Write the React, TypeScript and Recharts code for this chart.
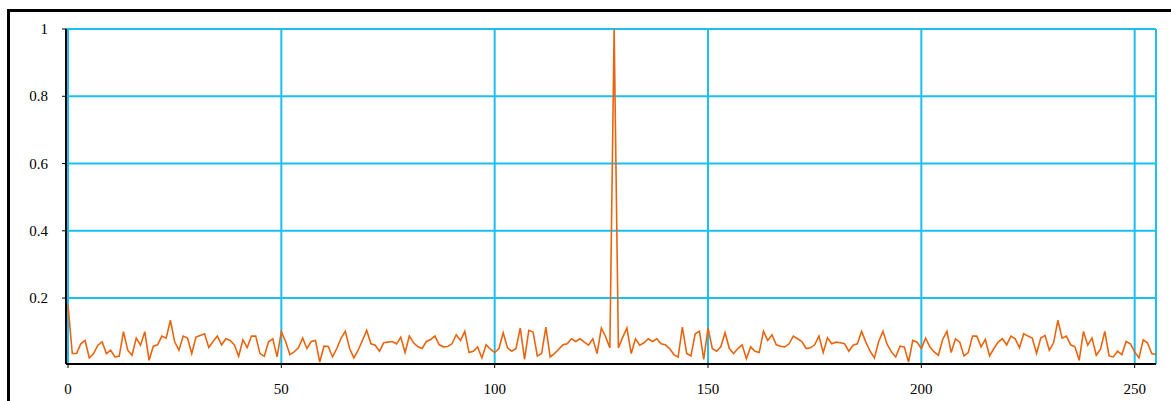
import React from 'react';
import { LineChart, Line, XAxis, YAxis, CartesianGrid } from 'recharts';

// correlation values, lag 0..255
const corr: number[] = [
    0.18, 0.035, 0.035, 0.064, 0.074, 0.022, 0.035, 0.06, 0.07, 0.035,
    0.045, 0.025, 0.027, 0.1, 0.045, 0.03, 0.081, 0.06, 0.1, 0.015,
    0.057, 0.061, 0.087, 0.081, 0.134, 0.07, 0.045, 0.087, 0.081, 0.035,
    0.084, 0.089, 0.094, 0.053, 0.071, 0.087, 0.061, 0.079, 0.074, 0.061,
    0.027, 0.076, 0.053, 0.087, 0.087, 0.035, 0.027, 0.07, 0.079, 0.025,
    0.1, 0.071, 0.032, 0.04, 0.052, 0.081, 0.05, 0.071, 0.074, 0.01,
    0.057, 0.056, 0.025, 0.05, 0.081, 0.101, 0.05, 0.022, 0.045, 0.074,
    0.104, 0.064, 0.06, 0.042, 0.067, 0.069, 0.071, 0.064, 0.084, 0.038,
    0.087, 0.067, 0.055, 0.05, 0.071, 0.077, 0.087, 0.061, 0.055, 0.056,
    0.064, 0.091, 0.074, 0.101, 0.038, 0.042, 0.055, 0.022, 0.061, 0.048,
    0.038, 0.05, 0.097, 0.052, 0.042, 0.05, 0.111, 0.018, 0.104, 0.099,
    0.028, 0.035, 0.114, 0.025, 0.035, 0.048, 0.061, 0.064, 0.079, 0.071,
    0.079, 0.069, 0.06, 0.079, 0.035, 0.111, 0.085, 0.052, 1, 0.052,
    0.083, 0.111, 0.035, 0.079, 0.06, 0.067, 0.079, 0.071, 0.079, 0.064,
    0.061, 0.05, 0.032, 0.025, 0.114, 0.035, 0.028, 0.094, 0.101, 0.018,
    0.111, 0.05, 0.042, 0.055, 0.097, 0.05, 0.035, 0.05, 0.061, 0.02,
    0.055, 0.042, 0.038, 0.101, 0.074, 0.091, 0.061, 0.057, 0.055, 0.064,
    0.087, 0.079, 0.071, 0.05, 0.052, 0.061, 0.087, 0.038, 0.082, 0.064,
    0.069, 0.067, 0.064, 0.042, 0.06, 0.064, 0.101, 0.069, 0.042, 0.022,
    0.071, 0.101, 0.062, 0.04, 0.025, 0.057, 0.055, 0.01, 0.074, 0.069,
    0.05, 0.081, 0.055, 0.04, 0.03, 0.077, 0.101, 0.038, 0.079, 0.069,
    0.028, 0.038, 0.087, 0.087, 0.055, 0.077, 0.028, 0.05, 0.069, 0.079,
    0.061, 0.087, 0.079, 0.052, 0.094, 0.087, 0.081, 0.035, 0.081, 0.089,
    0.045, 0.067, 0.134, 0.081, 0.087, 0.061, 0.055, 0.015, 0.101, 0.06,
    0.081, 0.03, 0.048, 0.101, 0.028, 0.025, 0.042, 0.032, 0.071, 0.064,
    0.04, 0.022, 0.076, 0.067, 0.035, 0.032,
];
const lags: number[] = corr.map((_, i) => i);

const xTicks = [0, 50, 100, 150, 200, 250];
const yTicks = [0.2, 0.4, 0.6, 0.8, 1];

const data = lags.map((lag, i) => ({ lag, value: corr[i] }));

const gridColor = '#1bbff0';
const lineColor = '#e8650f';
const serif = '"Liberation Serif", "DejaVu Serif", serif';

// plain serif tick text
const XTick = (props: any) => {
    const { x, y, payload } = props;
    return (
        <text x={x} y={y + 11} textAnchor="middle" style={{ fontFamily: serif, fontSize: 15, fill: '#000' }}>
            {payload.value}
        </text>
    );
};

const YTick = (props: any) => {
    const { x, y, payload } = props;
    return (
        <text x={x} y={y + 5} textAnchor="end" style={{ fontFamily: serif, fontSize: 15, fill: '#000' }}>
            {payload.value}
        </text>
    );
};

export default function App() {
    return (
        <div style={{
            position: 'absolute', left: 7, top: 9, width: 1164, height: 392,
            borderLeft: '3px solid #000', borderTop: '3px solid #000', background: '#fff',
        }}>
            <LineChart
                width={1161}
                height={389}
                data={data}
                margin={{ top: 17, right: 15, left: 0, bottom: 0 }}
            >
                <CartesianGrid stroke={gridColor} strokeWidth={2} />
                <XAxis
                    dataKey="lag"
                    type="number"
                    domain={[0, 255]}
                    ticks={xTicks}
                    padding={{ left: 2, right: 0 }}
                    height={37}
                    tickSize={4}
                    tickMargin={15}
                    axisLine={{ stroke: '#000', strokeWidth: 2 }}
                    tickLine={{ stroke: '#000' }}
                    tick={<XTick />}
                    interval={0}
                />
                <YAxis
                    type="number"
                    domain={[0.004, 1]}
                    ticks={yTicks}
                    width={56}
                    tickSize={4}
                    tickMargin={14}
                    axisLine={{ stroke: '#000', strokeWidth: 2 }}
                    tickLine={{ stroke: '#000' }}
                    tick={<YTick />}
                    interval={0}
                    allowDataOverflow
                />
                <Line
                    type="linear"
                    dataKey="value"
                    stroke={lineColor}
                    strokeWidth={1.6}
                    dot={false}
                    isAnimationActive={false}
                />
            </LineChart>
        </div>
    );
}
